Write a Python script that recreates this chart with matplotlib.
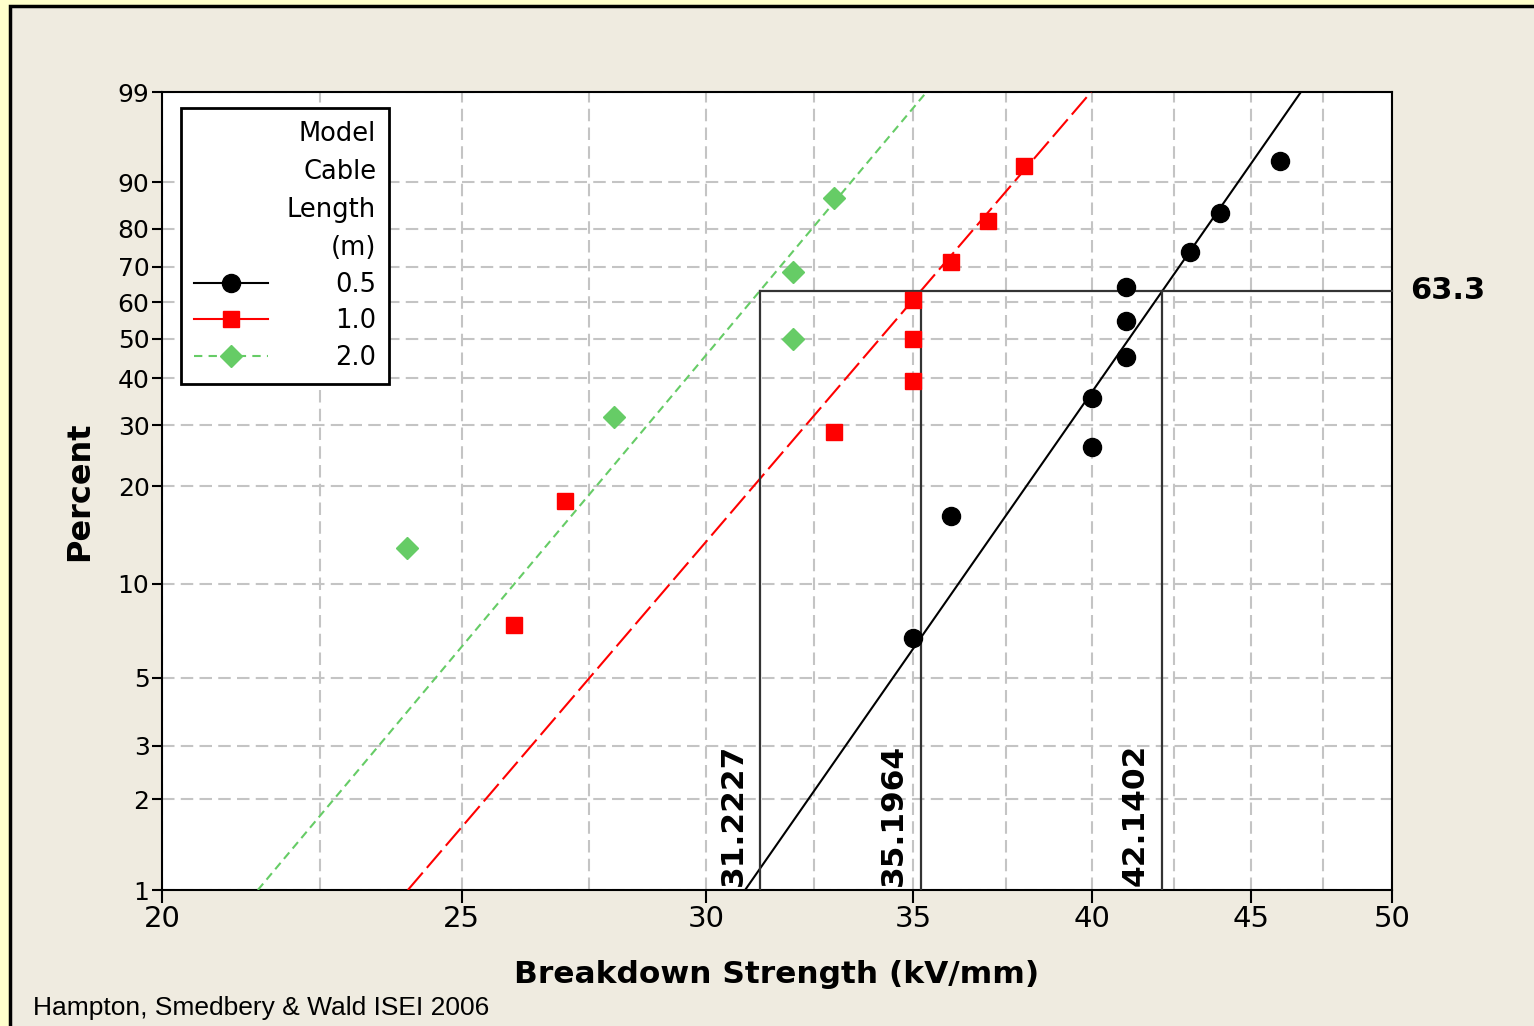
import numpy as np
import matplotlib
matplotlib.use("Agg")
import matplotlib.pyplot as plt
from matplotlib.lines import Line2D
from matplotlib.patches import Rectangle
from matplotlib.ticker import FixedLocator, FixedFormatter, NullLocator

# ---------------- data ----------------
x_05 = [35, 36, 40, 40, 41, 41, 41, 43, 44, 46]
p_05 = [6.7, 16.3, 26.0, 35.6, 45.2, 54.8, 64.4, 74.0, 83.7, 93.3]
x_10 = [26, 27, 33, 35, 35, 35, 36, 37, 38]
p_10 = [7.4, 18.1, 28.7, 39.4, 50.0, 60.6, 71.3, 81.9, 92.6]
x_20 = [24, 28, 32, 32, 33]
p_20 = [13.0, 31.5, 50.0, 68.5, 87.0]

# fitted lines (read endpoints at 1 % and 99 %)
fit_05_x = [30.88, 46.72]
fit_10_x = [24.02, 39.96]
fit_20_x = [21.48, 35.35]
fit_p = [1, 99]

scales = [31.2227, 35.1964, 42.1402]
scale_labels = ["31.2227", "35.1964", "42.1402"]
ref_p = 63.3

y_ticks = [1, 2, 3, 5, 10, 20, 30, 40, 50, 60, 70, 80, 90, 99]
x_ticks = [20, 25, 30, 35, 40, 45, 50]
x_grid_minor = [22.5, 27.5, 32.5, 37.5, 42.5, 47.5]
legend_labels = ["0.5", "1.0", "2.0"]

# ---------------- figure ----------------
W, H = 1534, 1026
fig = plt.figure(figsize=(W / 100, H / 100), dpi=100, facecolor="#FFFFCC")
bg = Rectangle((10 / W, -20 / H), 1.2, (H - 6 + 20) / H,
               transform=fig.transFigure, fc="#EFEBE0",
               ec="black", lw=2.5, zorder=-10)
fig.patches.append(bg)

ax = fig.add_axes([162 / W, 136 / H, 1230 / W, 798 / H])
ax.set_zorder(5)
ax.set_facecolor("white")


def fwd(p):
    p = np.clip(np.asarray(p, dtype=float), 1e-6, 100 - 1e-6)
    return np.log(-np.log(1 - p / 100.0))


def inv(y):
    return 100.0 * (1 - np.exp(-np.exp(np.asarray(y, dtype=float))))


ax.set_xscale("log")
ax.set_yscale("function", functions=(fwd, inv))
ax.set_xlim(20, 50)
ax.set_ylim(1, 99)

ax.xaxis.set_major_locator(FixedLocator(x_ticks))
ax.xaxis.set_major_formatter(FixedFormatter([str(v) for v in x_ticks]))
ax.xaxis.set_minor_locator(FixedLocator(x_grid_minor))
ax.xaxis.set_minor_formatter(FixedFormatter([""] * len(x_grid_minor)))
ax.yaxis.set_major_locator(FixedLocator(y_ticks))
ax.yaxis.set_major_formatter(FixedFormatter([str(v) for v in y_ticks]))
ax.yaxis.set_minor_locator(NullLocator())

ax.tick_params(axis="x", which="major", direction="out", length=9, width=1.5,
               labelsize=21, pad=2)
ax.tick_params(axis="x", which="minor", length=0)
ax.tick_params(axis="y", which="major", direction="out", length=7, width=1.5,
               labelsize=18, pad=2)
for s in ax.spines.values():
    s.set_linewidth(1.5)
    s.set_color("black")

grid_kw = dict(color="#C4C4C4", lw=1.5, ls=(0, (6, 3)))
ax.grid(True, which="major", axis="both", **grid_kw)
ax.grid(True, which="minor", axis="x", **grid_kw)
ax.set_axisbelow(True)

green = "#66CC66"
# fitted lines
ax.plot(fit_05_x, fit_p, color="black", lw=1.5, zorder=3)
ax.plot(fit_10_x, fit_p, color="red", lw=1.5, ls=(0, (11, 3)), zorder=3)
ax.plot(fit_20_x, fit_p, color=green, lw=1.5, ls=(0, (4, 2.5)), zorder=3)

# reference lines
for xs in scales:
    ax.plot([xs, xs], [1, ref_p], color="#333333", lw=1.6, zorder=4)
ax.plot([min(scales), 50], [ref_p, ref_p], color="#333333", lw=1.6, zorder=4,
        clip_on=False)

# points
ax.plot(x_05, p_05, ls="none", marker="o", ms=13, color="black", zorder=5)
ax.plot(x_10, p_10, ls="none", marker="s", ms=12, color="red", zorder=5)
ax.plot(x_20, p_20, ls="none", marker="D", ms=11.5, color=green, zorder=5)

# annotations
for xs, lab in zip(scales, scale_labels):
    ax.annotate(lab, xy=(xs, 1), xytext=(-9, 3), textcoords="offset points",
                rotation=90, ha="right", va="bottom", fontsize=22.5,
                fontweight="bold", zorder=6)
ax.annotate("63.3", xy=(1, ref_p), xycoords=("axes fraction", "data"),
            xytext=(13, 0), textcoords="offset points", ha="left",
            va="center", fontsize=22, fontweight="bold", annotation_clip=False)

ax.set_xlabel("Breakdown Strength (kV/mm)", fontsize=22.5, fontweight="bold",
              labelpad=19)
ax.set_ylabel("Percent", fontsize=23, fontweight="bold", labelpad=16)

handles = [
    Line2D([], [], color="black", lw=1.5, marker="o", ms=13),
    Line2D([], [], color="red", lw=1.5, marker="s", ms=12),
    Line2D([], [], color=green, lw=1.5, ls=(0, (4, 3)), marker="D", ms=11.5),
]
leg = ax.legend(handles, legend_labels, title="Model\nCable\nLength\n(m)",
                loc="upper left", bbox_to_anchor=(0.0154, 0.98),
                borderaxespad=0, fontsize=18.5, title_fontsize=18.5,
                alignment="right", frameon=True, fancybox=False,
                edgecolor="black", framealpha=1, handlelength=2.9,
                handletextpad=2.6, labelspacing=0.42, borderpad=0.5)
leg.get_frame().set_linewidth(2)
leg.get_title().set_multialignment("right")
leg.get_title().set_linespacing(1.6)
leg.set_zorder(10)

fig.text(33 / W, (1026 - 1015) / H, "Hampton, Smedbery & Wald ISEI 2006",
         fontsize=19, family="Liberation Sans", ha="left", va="baseline")

fig.savefig("out.png", dpi=100, facecolor=fig.get_facecolor())
